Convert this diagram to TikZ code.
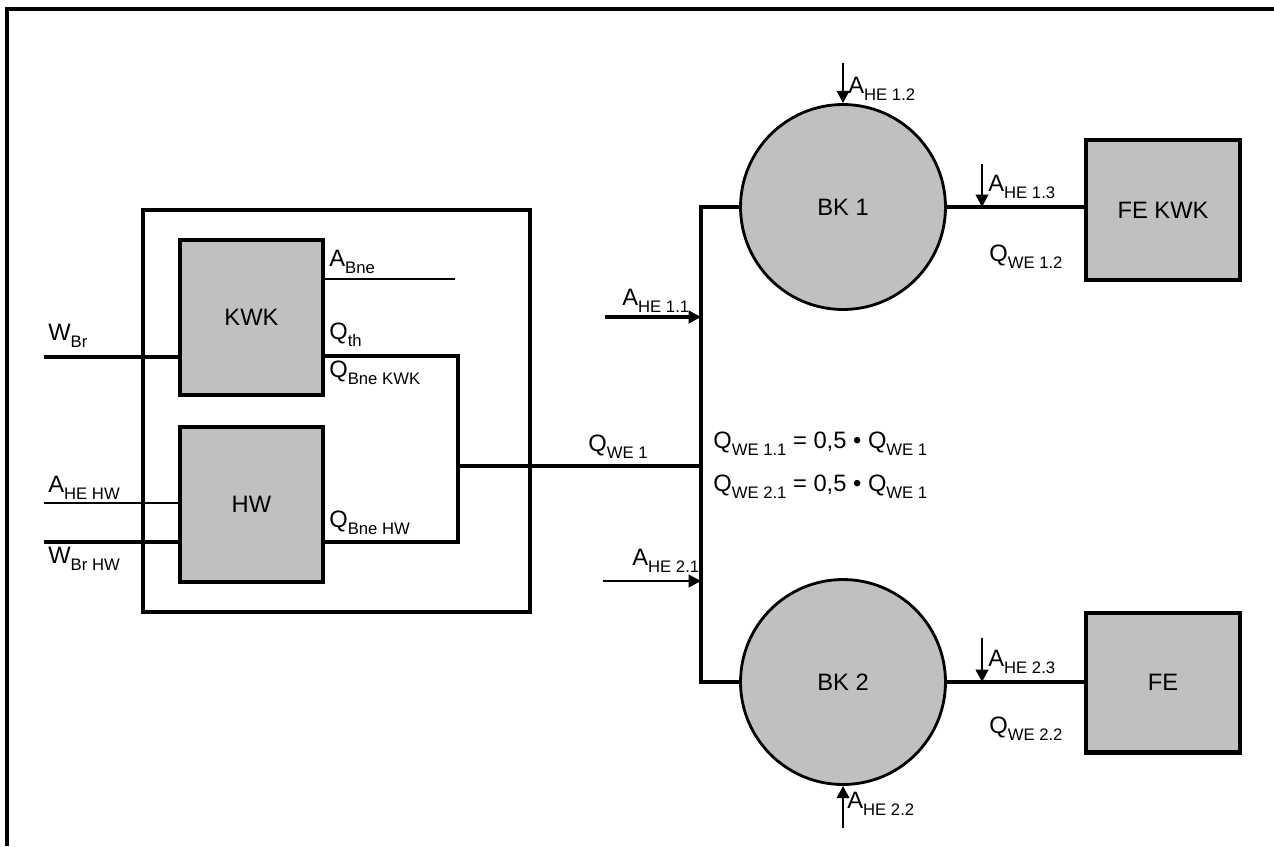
\documentclass[tikz,border=0pt]{standalone}
\usepackage{fontspec}
\setmainfont{Liberation Sans}
\usetikzlibrary{arrows.meta, positioning}

\definecolor{boxgray}{HTML}{C0C0C0}
\newcommand{\idx}[1]{\raisebox{-0.3em}{\fontsize{9.5}{10}\selectfont #1}}

\begin{document}
\begin{tikzpicture}[x=0.02cm, y=-0.02cm, line join=miter,
        font=\fontsize{13.5}{15}\selectfont,
        unit/.style={draw, line width=2.3pt, fill=boxgray, minimum width=2.86cm, minimum height=3.1cm, font=\fontsize{13.5}{15}\selectfont},
        kessel/.style={circle, draw, line width=1.6pt, fill=boxgray, minimum size=4.1cm, inner sep=0pt, font=\fontsize{13.5}{15}\selectfont},
        flow/.style={line width=2.3pt},
        aux/.style={line width=1.5pt},
        feed/.style={-{Triangle[length=7pt,width=7pt]}},
        lbl/.style={anchor=base west, inner sep=0pt}]

        % page and frame
        \useasboundingbox (0,0) rectangle (1274,846);
        \draw[line width=2.3pt] (7,846) -- (7,9) -- (1274,9);

        % ==========================================
        % plant: KWK and HW
        % ==========================================
        \node[draw, line width=2.3pt, minimum width=7.74cm, minimum height=8.04cm] (anlage) at (336.5,411) {};
        \node[unit] (kwk) at (251.5,317.5) {KWK};
        \node[unit] (hw) at (251.5,504.5) {HW};

        % inputs
        \coordinate (wbr) at (44,357);
        \coordinate (ahw) at (44,503);
        \coordinate (wbrhw) at (44,542);
        \draw[flow] (wbr) -- (wbr -| kwk.west);
        \draw[aux] (ahw) -- (ahw -| hw.west);
        \draw[flow] (wbrhw) -- (wbrhw -| hw.west);

        % outputs
        \coordinate (abne) at (455,279);
        \coordinate (qth) at (458,356);
        \coordinate (qbne) at (458,542);
        \coordinate (sammel) at (458,466);
        \draw[aux] (kwk.east |- abne) -- (abne);
        \draw[flow] (kwk.east |- qth) -- (qth) -- (qbne) -- (hw.east |- qbne);

        \node[lbl] (l-wbr) at (48,340) {W\idx{Br}};
        \node[lbl] (l-ahw) at (48,492) {A\idx{HE HW}};
        \node[lbl] (l-wbrhw) at (48,563) {W\idx{Br HW}};
        \node[lbl] (l-abne) at (329,266) {A\idx{Bne}};
        \node[lbl] (l-qth) at (329,339) {Q\idx{th}};
        \node[lbl] (l-qkwk) at (329,377) {Q\idx{Bne KWK}};
        \node[lbl] (l-qhw) at (329,527) {Q\idx{Bne HW}};

        % ==========================================
        % distribution to BK 1 and BK 2
        % ==========================================
        \node[kessel] (bk1) at (843,207) {BK 1};
        \node[kessel] (bk2) at (843,682) {BK 2};
        \node[unit, minimum width=3.08cm, minimum height=2.8cm] (fekwk) at (1163,210) {FE KWK};
        \node[unit, minimum width=3.08cm, minimum height=2.8cm] (fe) at (1163,682.5) {FE};

        \coordinate (v1) at (701,207);
        \coordinate (vm) at (701,466);
        \coordinate (v2) at (701,682);
        \draw[flow] (sammel) -- (vm);
        \draw[flow] (bk1.west) -- (v1) -- (v2) -- (bk2.west);
        \draw[flow] (bk1.east) -- (bk1.east -| fekwk.west);
        \draw[flow] (bk2.east) -- (bk2.east -| fe.west);

        % auxiliary energy
        \coordinate (ahe11) at (605,317);
        \coordinate (ahe21) at (603,581);
        \coordinate (ahe12) at (843,63);
        \coordinate (ahe22) at (843,828);
        \coordinate (ahe13) at (982,164);
        \coordinate (ahe23) at (982,638);
        \draw[feed, flow] (ahe11) -- (ahe11 -| v1);
        \draw[feed, aux] (ahe21) -- (ahe21 -| v1);
        \draw[feed, aux] (ahe12) -- (bk1.north);
        \draw[feed, aux] (ahe22) -- (bk2.south);
        \draw[feed, aux] (ahe13) -- (ahe13 |- bk1.east);
        \draw[feed, aux] (ahe23) -- (ahe23 |- bk2.east);

        \node[lbl] (l-qwe1) at (588,451) {Q\idx{WE 1}};
        \node[lbl] (l-eq1) at (713,448) {Q\idx{WE 1.1} = 0,5 \textbullet\ Q\idx{WE 1}};
        \node[lbl] (l-eq2) at (713,491) {Q\idx{WE 2.1} = 0,5 \textbullet\ Q\idx{WE 1}};
        \node[lbl] (l-ahe11) at (622,305) {A\idx{HE 1.1}};
        \node[lbl] (l-ahe21) at (632,565) {A\idx{HE 2.1}};
        \node[lbl] (l-ahe12) at (848,93) {A\idx{HE 1.2}};
        \node[lbl] (l-ahe22) at (847,808) {A\idx{HE 2.2}};
        \node[lbl] (l-ahe13) at (988,191) {A\idx{HE 1.3}};
        \node[lbl] (l-ahe23) at (988,666) {A\idx{HE 2.3}};
        \node[lbl] (l-qwe12) at (989,261) {Q\idx{WE 1.2}};
        \node[lbl] (l-qwe22) at (989,733) {Q\idx{WE 2.2}};

    \end{tikzpicture}
\end{document}
